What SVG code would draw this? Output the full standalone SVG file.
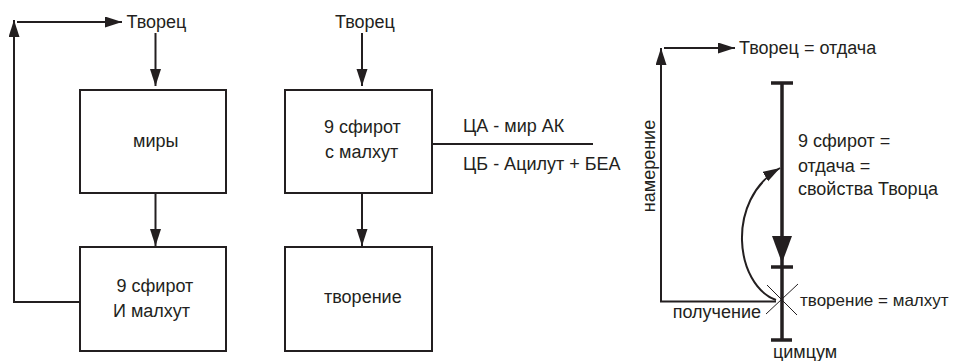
<svg xmlns="http://www.w3.org/2000/svg" width="955" height="361" viewBox="0 0 955 361">
<style>
text{font-family:"Liberation Sans",Arial,sans-serif;font-size:18px;fill:#231f20}
.box{fill:#fff;stroke:#231f20;stroke-width:2}
.ln{fill:none;stroke:#231f20;stroke-width:2}
.thick{fill:none;stroke:#231f20;stroke-width:3.5}
.thin{fill:none;stroke:#231f20;stroke-width:1}
</style>
<defs>
<marker id="ah" markerUnits="userSpaceOnUse" markerWidth="18" markerHeight="12" refX="17" refY="5.5" orient="auto">
<path d="M0,0 L17,5.5 L0,11 z" fill="#231f20"/>
</marker>
<marker id="big" markerUnits="userSpaceOnUse" markerWidth="28" markerHeight="21" refX="27" refY="10" orient="auto">
<path d="M0,0 L27,10 L0,20 z" fill="#231f20"/>
</marker>
</defs>
<rect width="955" height="361" fill="#fff"/>

<g id="connectors">
<path class="ln" d="M155.5,33 V86" marker-end="url(#ah)"/>
<path class="ln" d="M155.5,193 V246" marker-end="url(#ah)"/>
<path class="ln" d="M80,302 H14 V20" marker-end="url(#ah)"/>
<path class="ln" d="M17,22 H122" marker-end="url(#ah)"/>
<path class="ln" d="M362,33 V86" marker-end="url(#ah)"/>
<path class="ln" d="M362,193 V246" marker-end="url(#ah)"/>
<path class="ln" d="M432,144 H593"/>
<path class="ln" d="M776,301.5 H661 V48" marker-end="url(#ah)"/>
<path class="ln" d="M664,48 H735" marker-end="url(#ah)"/>
<path class="thick" d="M782,83 V263" marker-end="url(#big)"/>
<path class="thick" d="M782,263 V340"/>
<path class="thick" d="M771,83 H793 M771,267 H793 M771,340 H792"/>
<path class="ln" d="M776,300 C735,285 725,200 780,168" marker-end="url(#ah)"/>
<path class="thin" d="M767,285 L797,315 M766,314 L798,284"/>
</g>

<g id="tvorets1"><text x="126.5" y="27.5">Творец</text></g>
<g id="miry">
<rect class="box" x="80" y="90" width="146" height="103"/>
<text x="133" y="147">миры</text>
</g>
<g id="sfirot1">
<rect class="box" x="80" y="247" width="146" height="104"/>
<text x="116.5" y="291.5">9 сфирот</text>
<text x="113" y="316.5">И малхут</text>
</g>

<g id="tvorets2"><text x="335" y="28">Творец</text></g>
<g id="sfirot2">
<rect class="box" x="285" y="90" width="147" height="103"/>
<text x="324" y="133">9 сфирот</text>
<text x="325" y="158">с малхут</text>
</g>
<g id="tvorenie">
<rect class="box" x="285" y="247" width="147" height="104"/>
<text x="324" y="303">творение</text>
</g>
<g id="tsimtsum-labels">
<text x="463" y="131.5">ЦА - мир АК</text>
<text x="463" y="170">ЦБ - Ацилут + БЕА</text>
</g>

<g id="right-labels">
<text x="739" y="53.5">Творец = отдача</text>
<text x="655" y="166" text-anchor="middle" transform="rotate(-90 655 166)">намерение</text>
<text x="798" y="147">9 сфирот =</text>
<text x="798" y="171.5">отдача =</text>
<text x="798" y="195">свойства Творца</text>
<text x="800" y="306" style="font-size:17px">творение = малхут</text>
<text x="761" y="318" text-anchor="end">получение</text>
<text x="773" y="358">цимцум</text>
</g>
</svg>
